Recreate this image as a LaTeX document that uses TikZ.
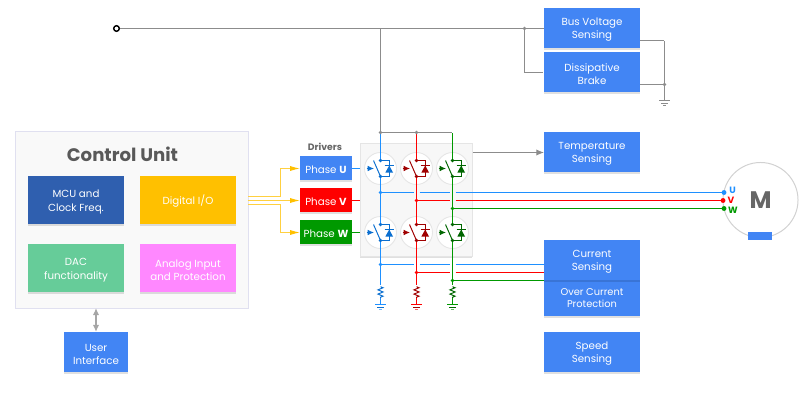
\documentclass[tikz,border=0pt]{standalone}
\usepackage{fontspec}
\setmainfont{Poppins}
\usetikzlibrary{
  arrows.meta,
  calc,
  decorations.pathmorphing,
  shadows
}
\definecolor{boxblue}{HTML}{4285F4}
\definecolor{mcublue}{HTML}{2F5FAF}
\definecolor{ioyellow}{HTML}{FFC000}
\definecolor{dacgreen}{HTML}{66CC99}
\definecolor{analogpink}{HTML}{FF88FF}
\definecolor{busgrey}{HTML}{8C8C8C}
\definecolor{wireU}{HTML}{1E90FF}
\definecolor{wireV}{HTML}{FF0000}
\definecolor{wireW}{HTML}{009900}
\definecolor{iconU}{HTML}{0B6FD0}
\definecolor{iconV}{HTML}{A00000}
\definecolor{iconW}{HTML}{006600}
\tikzset{
  % For dimensionless point nodes.
  dummy/.style={
    inner sep=0pt,
    outer sep=0pt},
%
  % For small junction dots.
  dot/.style={
    circle,
    fill,
    inner sep=0pt,
    outer sep=0pt,
    minimum size=2.8pt},
%
  % For all coloured boxes, text as it falls.
  flat block/.style={
    inner sep=0pt,
    outer sep=0pt,
    align=center,
    text=white,
    font=\fontsize{7.3}{9.3}\selectfont,
    drop shadow={shadow xshift=0pt, shadow yshift=-1.2pt, opacity=.12, fill=black}},
%
  % The strut beside the text brings it down to the box middle.
  block/.style={
    flat block,
    execute at begin node={\rule{0pt}{8pt}}},
%
  % Two lines of text need a taller strut.
  two lines/.style={
    execute at begin node={\rule{0pt}{17.6pt}}},
%
  % For the blue boxes on the right.
  sense/.style={
    block,
    two lines,
    fill=boxblue,
    minimum width=2.4cm,
    minimum height=1cm},
%
  % For the four boxes in the control unit.
  unit/.style={
    block,
    minimum width=2.4cm,
    minimum height=1.2cm},
%
  % For the driver boxes.
  driver/.style={
    block,
    minimum width=1.3cm,
    minimum height=.6cm},
%
  % For main curves.
  wire/.style={
    line width=.7pt},
%
  % For the grey supply curves.
  bus/.style={
    wire,
    busgrey},
%
  % For the yellow driver signals.
  signal/.style={
    wire,
    color=ioyellow!75!white,
    -{Latex[length=7pt, width=3.6pt, color=ioyellow]}},
%
  % For the white discs around the switches.
  disc/.style={
    circle,
    draw=black!10,
    fill=white,
    line width=.6pt,
    inner sep=0pt,
    minimum size=.8cm},
%
  % For the motor terminals.
  terminal/.style={
    font=\fontsize{6.5}{8}\selectfont\bfseries}
}

\begin{document}
\begin{tikzpicture}[x=.025cm, y=-.025cm]
  \useasboundingbox (0,0) rectangle (800,400);

  % Control unit
  \node [dummy,
         fill=black!2.5,
         draw=blue!50!black!12,
         line width=.7pt,
         minimum width=5.8cm,
         minimum height=4.4cm] (control) at (132,220) {};
  \node [font=\fontsize{12.9}{14}\selectfont\bfseries,
         text=black!65] (title) at (122.5,154) {Control Unit};
  \node [unit, two lines, fill=mcublue] (mcu) at (76,200) {MCU and\\Clock Freq.};
  \node [unit, fill=ioyellow] (digital) at (188,200) {Digital I/O};
  \node [unit, two lines, fill=dacgreen] (dac) at (76,268) {DAC\\functionality};
  \node [unit, two lines, fill=analogpink] (analog) at (188,268) {Analog Input\\and Protection};
  \node [block, two lines, fill=boxblue,
         minimum width=1.6cm,
         minimum height=1cm] (user) at (96,352) {User\\Interface};
  \draw[line width=1pt, black!35, {Latex[length=5pt, width=4.5pt]}-{Latex[length=5pt, width=4.5pt]}]
    (user.north) -- (user.north |- control.south);

  % Drivers
  \node [font=\fontsize{6.6}{8}\selectfont\bfseries, text=black!60] (drivers) at (325,147) {Drivers};
  \node [driver, fill=boxblue] (phaseU) at (326,168) {Phase \textbf{U}};
  \node [driver, fill=wireV] (phaseV) at (326,200) {Phase \textbf{V}};
  \node [driver, fill=wireW] (phaseW) at (326,232) {Phase \textbf{W}};

  % Sensing boxes
  \node [sense] (voltage) at (592,28) {Bus Voltage\\Sensing};
  \node [sense] (brake) at (592,72) {Dissipative\\Brake};
  \node [sense] (temperature) at (592,152) {Temperature\\Sensing};
  \node [flat block, fill=boxblue,
         font=\fontsize{7}{8.8}\selectfont,
         minimum width=2.4cm,
         minimum height=.9cm] (protection) at (592,298) {Over Current\\Protection};
  \node [sense] (current) at (592,260) {Current\\Sensing};
  \node [sense] (speed) at (592,352) {Speed\\Sensing};

  % Motor
  \node [circle,
         draw=black!18,
         fill=white,
         line width=.7pt,
         inner sep=0pt,
         minimum size=1.875cm,
         font=\fontsize{17}{18}\selectfont\bfseries,
         text=black!60] (motor) at (760.5,200) {M};
  \node [dummy, fill=boxblue, minimum width=.6cm, minimum height=.2cm] (encoder) at (760,236) {};
  \node [dot, wireU, minimum size=3.5pt] (motorU) at (724,192.5) {};
  \node [dot, wireV, minimum size=3.5pt] (motorV) at (723,200.5) {};
  \node [dot, wireW, minimum size=3.5pt] (motorW) at (724,208.5) {};
  \node [terminal, text=wireU] (labelU) at (732.5,190) {U};
  \node [terminal, text=wireV] (labelV) at (731,200.5) {V};
  \node [terminal, text=wireW] (labelW) at (733,210.5) {W};

  % Supply
  \node [circle, draw, fill=white, line width=1pt,
         inner sep=0pt, minimum size=4pt] (supply) at (116.5,28.5) {};
  \draw[bus] (supply) -- (voltage.west |- supply);
  \node [dot, busgrey] (tap) at (524.5,28.5) {};
  \node [dummy] (inlet) at (544,72.5) {};
  \draw[bus] (tap) |- (inlet);
  \node [dummy] (return) at (664.5,40.5) {};
  \node [dummy] (earth) at (664.5,100.5) {};
  \draw[bus] (return -| voltage.east) -- (return) -- (earth);
  \node [dot, busgrey] (drain) at (664.5,84.5) {};
  \draw[bus] (drain -| brake.east) -- (drain);
  \draw[bus] ($(earth) + (-5.5,0)$) -- +(11,0)
             ($(earth) + (-3.5,2.5)$) -- +(7,0)
             ($(earth) + (-1.5,5)$) -- +(3,0);

  % Power stage
  \node [block,
         fill=black!3,
         draw=black!10,
         line width=.7pt,
         minimum width=2.8cm,
         minimum height=2.8cm] (panel) at (416,200) {};

  \node [dummy] (split) at (380.5,132.5) {};
  \draw[bus] (split |- supply) -- (split);
  \node [dummy] (heat) at (472,152.5) {};
  \draw[bus, -{Latex[length=5.5pt, width=4.5pt]}] (heat) -- (heat -| temperature.west);

  \foreach \leg/\bright/\dark/\x/\busy/\sensey in {
    U/wireU/iconU/380.5/192.5/264.5,
    V/wireV/iconV/416.5/200.5/272.5,
    W/wireW/iconW/452.5/208.5/280.5} {
    \node [dummy] (top\leg) at (\x,132.5) {};
    \node [dot, \bright] (bus\leg) at (\x,\busy) {};
    \node [dot, \bright] (shunt\leg) at (\x,\sensey) {};
    \node [dummy] (resistor\leg) at (\x,286) {};
    \node [dummy] (ground\leg) at (\x,304.5) {};

    \foreach \row/\y in {high/168.5, low/232.5} {
      \node [disc] (\row\leg) at (\x,\y) {};
      \draw[wire, \dark] ($(\row\leg) + (-7,-8)$) -- ($(\row\leg) + (0,8)$);
      \draw[wire, \dark] ($(\row\leg) + (0,-8)$) -- ++(8.7,0) -- ++(0,16) -- ++(-8.7,0);
      \draw[wire, \dark, -{Latex[length=4.5pt, width=4pt]}] ($(\row\leg) + (-14,0)$) -- ($(\row\leg) + (-6.5,0)$);
      \fill[\dark] ($(\row\leg) + (8.7,-3)$) -- ($(\row\leg) + (12.5,4)$) -- ($(\row\leg) + (4.9,4)$) -- cycle;
      \draw[wire, \dark] ($(\row\leg) + (4.2,-3)$) -- ($(\row\leg) + (13.2,-3)$);
      \node [dot, \dark] (collector\row\leg) at ($(\row\leg) + (0,-8)$) {};
      \node [dot, \dark] (emitter\row\leg) at ($(\row\leg) + (0,8)$) {};
    }

    \draw[wire, \bright] (top\leg) -- (collectorhigh\leg);
    \draw[wire, \bright] (emitterhigh\leg) -- (collectorlow\leg);
    \draw[wire, \bright] (emitterlow\leg) -- (resistor\leg);
    \draw[wire, \dark, decorate,
          decoration={zigzag, amplitude=1.8pt, segment length=3pt}]
      (resistor\leg) -- ($(resistor\leg) + (0,12)$);
    \draw[wire, \bright] ($(resistor\leg) + (0,12)$) -- (ground\leg);
    \draw[wire, \bright] ($(ground\leg) + (-5.5,0)$) -- +(11,0);
    \draw[wire, \dark] ($(ground\leg) + (-3.5,2.5)$) -- +(7,0);
    \draw[wire, \bright!60!white] ($(ground\leg) + (-1.5,5)$) -- +(3,0);
  }

  \draw[bus] (split) -- (topW);
  \node [dot, busgrey] (splitU) at (topU) {};
  \node [dot, busgrey] (splitV) at (topV) {};

  % Driver signals
  \node [dummy] (signal bend) at (280.5,200.5) {};
  \draw[signal] ($(control.east |- signal bend) + (0,-4)$)
                  -| (signal bend |- highU) -- (highU -| phaseU.west);
  \draw[signal] (control.east |- signal bend) -- (signal bend -| phaseV.west);
  \draw[signal] ($(control.east |- signal bend) + (0,4)$)
                  -| (signal bend |- lowW) -- (lowW -| phaseW.west);

  % Phase inputs
  \draw[wire, wireU] (phaseU.east |- highU) -- (panel.west |- highU);
  \draw[wire, wireV] (phaseV.east |- busV) -- (panel.west |- busV);
  \draw[wire, wireW] (phaseW.east |- lowW) -- (panel.west |- lowW);

  % Motor lines, broken where they pass another leg
  \draw[wire, wireU] (busU) -- ($(busU -| topV) + (-3,0)$)
                     ($(busU -| topV) + (3,0)$) -- ($(busU -| topW) + (-3,0)$)
                     ($(busU -| topW) + (3,0)$) -- (motorU);
  \draw[wire, wireV] (busV) -- ($(busV -| topW) + (-3,0)$)
                     ($(busV -| topW) + (3,0)$) -- (motorV);
  \draw[wire, wireW] (busW) -- (motorW);

  % Current sense lines
  \draw[wire, wireU] (shuntU) -- ($(shuntU -| topV) + (-3,0)$)
                     ($(shuntU -| topV) + (3,0)$) -- ($(shuntU -| topW) + (-3,0)$)
                     ($(shuntU -| topW) + (3,0)$) -- (shuntU -| current.west);
  \draw[wire, wireV] (shuntV) -- ($(shuntV -| topW) + (-3,0)$)
                     ($(shuntV -| topW) + (3,0)$) -- (shuntV -| current.west);
  \draw[wire, wireW] (shuntW) -- (shuntW -| current.west);
\end{tikzpicture}
\end{document}
